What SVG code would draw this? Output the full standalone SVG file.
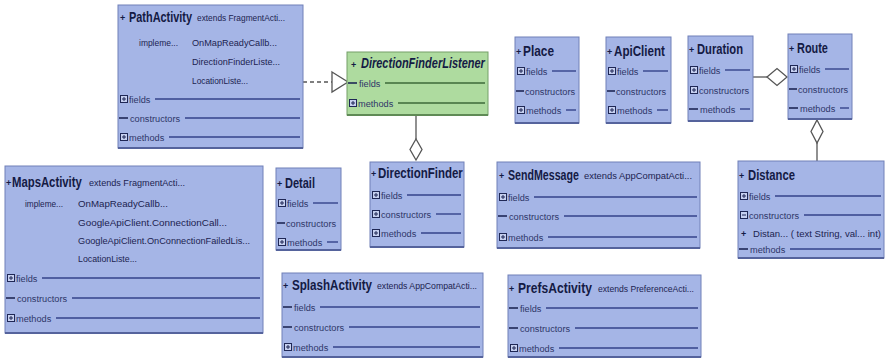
<svg xmlns="http://www.w3.org/2000/svg" width="887" height="358" viewBox="0 0 887 358">
<style>
.box{fill:#a5b5e6;stroke:#7080b8;stroke-width:1}
.gbox{fill:#aedb9f;stroke:#74a068;stroke-width:1}
.sh{stroke:#55639c;stroke-width:2}
.t{font-family:"Liberation Sans",Arial,sans-serif;font-weight:bold;font-size:14px;fill:#141a44}
.p{font-family:"Liberation Sans",Arial,sans-serif;font-weight:bold;font-size:9px;fill:#141a44}
.x{font-family:"Liberation Sans",Arial,sans-serif;font-size:9.5px;fill:#1c2350}
.s{font-family:"Liberation Sans",Arial,sans-serif;font-size:9.2px;fill:#2e3668}
.ln{stroke:#34438a;stroke-width:1.4}
.lg{stroke:#3d6a38;stroke-width:1.4}
.d{stroke:#1f2755;stroke-width:1.6}
.con{stroke:#555;stroke-width:1.3;fill:none}
.hd{fill:#fff;stroke:#555;stroke-width:1.3}
</style>
<defs>
<g id="pl"><rect x="0.5" y="0.5" width="7" height="7" fill="#c6d0f0" stroke="#1f2755" stroke-width="1"/><path d="M2 4h4M4 2v4" stroke="#1f2755" stroke-width="1"/></g>
<g id="mi"><rect x="0.5" y="0.5" width="7" height="7" fill="#c6d0f0" stroke="#1f2755" stroke-width="1"/><path d="M2 4h4" stroke="#1f2755" stroke-width="1"/></g>
</defs>

<g id="connectors">
<line class="con" x1="303" y1="82" x2="332" y2="82" stroke-dasharray="4,3"/>
<polygon class="hd" points="332,72 348,82 332,92"/>
<line class="con" x1="416" y1="115" x2="416" y2="139"/>
<polygon class="hd" points="416,139 422,149.5 416,160 410,149.5"/>
<line class="con" x1="753" y1="77" x2="767" y2="77"/>
<polygon class="hd" points="767,77 777,68.5 787,77 777,85.5"/>
<polygon class="hd" points="817,120 823,131.5 817,143 811,131.5"/>
<line class="con" x1="817" y1="143" x2="817" y2="161"/>
</g>

<g id="PathActivity">
<rect class="box" x="118" y="5" width="185" height="143"/>
<line class="sh" x1="118" y1="148" x2="303" y2="148"/>
<text class="p" x="120" y="21">+</text>
<text class="t" transform="translate(129,22) scale(0.78,1)">PathActivity</text>
<text class="x" x="197" y="21" textLength="88" lengthAdjust="spacingAndGlyphs">extends  FragmentActi...</text>
<text class="x" x="139" y="45.5" textLength="39" lengthAdjust="spacingAndGlyphs">impleme...</text>
<text class="x" x="192" y="45.5" textLength="85" lengthAdjust="spacingAndGlyphs">OnMapReadyCallb...</text>
<text class="x" x="192" y="64.5" textLength="88" lengthAdjust="spacingAndGlyphs">DirectionFinderListe...</text>
<text class="x" x="192" y="83.5" textLength="56" lengthAdjust="spacingAndGlyphs">LocationListe...</text>
<use href="#pl" x="120" y="95"/><text class="s" x="129" y="102.5">fields</text><line class="ln" x1="155" y1="99" x2="300" y2="99"/>
<line class="d" x1="119" y1="118" x2="128" y2="118"/><text class="s" x="130" y="121.5">constructors</text><line class="ln" x1="185" y1="118" x2="300" y2="118"/>
<use href="#pl" x="120" y="133"/><text class="s" x="129" y="140.5">methods</text><line class="ln" x1="169" y1="137" x2="300" y2="137"/>
</g>

<g id="DirectionFinderListener">
<rect class="gbox" x="347" y="52" width="141" height="63"/>
<line x1="347" y1="115" x2="488" y2="115" stroke="#5f8a55" stroke-width="2"/>
<text class="p" x="351" y="68">+</text>
<text class="t" font-style="italic" transform="translate(361,68) scale(0.785,1)">DirectionFinderListener</text>
<line class="d" x1="348" y1="83" x2="357" y2="83" stroke="#24421f"/><text class="s" x="359" y="86.5">fields</text><line class="lg" x1="385" y1="83" x2="485" y2="83"/>
<use href="#pl" x="349" y="99"/><text class="s" x="358" y="106.5">methods</text><line class="lg" x1="398" y1="103" x2="485" y2="103"/>
</g>

<g id="Place">
<rect class="box" x="515" y="37" width="64" height="86"/>
<line class="sh" x1="515" y1="123" x2="579" y2="123"/>
<text class="p" x="516" y="55">+</text>
<text class="t" transform="translate(523,56) scale(0.847,1)">Place</text>
<use href="#pl" x="517" y="67"/><text class="s" x="526" y="74.5">fields</text><line class="ln" x1="552" y1="71" x2="576" y2="71"/>
<line class="d" x1="516" y1="91" x2="524" y2="91"/><text class="s" x="525" y="94.5">constructors</text>
<use href="#pl" x="517" y="106"/><text class="s" x="526" y="113.5">methods</text><line class="ln" x1="566" y1="110" x2="576" y2="110"/>
</g>

<g id="ApiClient">
<rect class="box" x="606" y="37" width="65" height="86"/>
<line class="sh" x1="606" y1="123" x2="671" y2="123"/>
<text class="p" x="607" y="55">+</text>
<text class="t" transform="translate(614,56) scale(0.83,1)">ApiClient</text>
<use href="#pl" x="608" y="67"/><text class="s" x="617" y="74.5">fields</text><line class="ln" x1="643" y1="71" x2="668" y2="71"/>
<line class="d" x1="607" y1="91" x2="615" y2="91"/><text class="s" x="616" y="94.5">constructors</text>
<use href="#pl" x="608" y="106"/><text class="s" x="617" y="113.5">methods</text><line class="ln" x1="657" y1="110" x2="668" y2="110"/>
</g>

<g id="Duration">
<rect class="box" x="688" y="36" width="65" height="85"/>
<line class="sh" x1="688" y1="121" x2="753" y2="121"/>
<text class="p" x="689" y="53">+</text>
<text class="t" transform="translate(697,54) scale(0.8,1)">Duration</text>
<use href="#pl" x="690" y="66"/><text class="s" x="699" y="73.5">fields</text><line class="ln" x1="725" y1="70" x2="750" y2="70"/>
<use href="#pl" x="690" y="86"/><text class="s" x="699" y="93.5">constructors</text>
<line class="d" x1="689" y1="109" x2="698" y2="109"/><text class="s" x="700" y="112.5">methods</text><line class="ln" x1="740" y1="109" x2="750" y2="109"/>
</g>

<g id="Route">
<rect class="box" x="788" y="34" width="64" height="85"/>
<line class="sh" x1="788" y1="119" x2="852" y2="119"/>
<text class="p" x="789" y="52">+</text>
<text class="t" transform="translate(797,53) scale(0.78,1)">Route</text>
<use href="#pl" x="790" y="65"/><text class="s" x="799" y="72.5">fields</text><line class="ln" x1="825" y1="69" x2="849" y2="69"/>
<line class="d" x1="789" y1="89" x2="797" y2="89"/><text class="s" x="798" y="92.5">constructors</text>
<line class="d" x1="789" y1="108" x2="798" y2="108"/><text class="s" x="800" y="111.5">methods</text><line class="ln" x1="840" y1="108" x2="849" y2="108"/>
</g>

<g id="Distance">
<rect class="box" x="738" y="161" width="146" height="97"/>
<line class="sh" x1="738" y1="258" x2="884" y2="258"/>
<text class="p" x="739" y="179">+</text>
<text class="t" transform="translate(748,180) scale(0.805,1)">Distance</text>
<use href="#pl" x="740" y="192"/><text class="s" x="749" y="199.5">fields</text><line class="ln" x1="775" y1="196" x2="881" y2="196"/>
<use href="#mi" x="740" y="211"/><text class="s" x="749" y="218.5">constructors</text><line class="ln" x1="804" y1="215" x2="881" y2="215"/>
<text class="p" x="741" y="237">+</text>
<text class="x" x="753" y="236.5" textLength="128" lengthAdjust="spacingAndGlyphs">Distan... ( text String,  val...  int)</text>
<line class="d" x1="739" y1="249" x2="748" y2="249"/><text class="s" x="750" y="252.5">methods</text><line class="ln" x1="790" y1="249" x2="881" y2="249"/>
</g>

<g id="MapsActivity">
<rect class="box" x="5" y="166" width="258" height="167"/>
<line class="sh" x1="5" y1="333" x2="263" y2="333"/>
<text class="p" x="6" y="186">+</text>
<text class="t" transform="translate(12,187) scale(0.81,1)">MapsActivity</text>
<text class="x" x="89" y="186" textLength="96" lengthAdjust="spacingAndGlyphs">extends  FragmentActi...</text>
<text class="x" x="25" y="206.5" textLength="38" lengthAdjust="spacingAndGlyphs">impleme...</text>
<text class="x" x="78" y="206.5" textLength="90" lengthAdjust="spacingAndGlyphs">OnMapReadyCallb...</text>
<text class="x" x="78" y="225.5" textLength="149" lengthAdjust="spacingAndGlyphs">GoogleApiClient.ConnectionCall...</text>
<text class="x" x="78" y="243.5" textLength="172" lengthAdjust="spacingAndGlyphs">GoogleApiClient.OnConnectionFailedLis...</text>
<text class="x" x="78" y="261.5" textLength="59" lengthAdjust="spacingAndGlyphs">LocationListe...</text>
<use href="#pl" x="7" y="274"/><text class="s" x="16" y="281.5">fields</text><line class="ln" x1="42" y1="278" x2="260" y2="278"/>
<line class="d" x1="6" y1="298" x2="15" y2="298"/><text class="s" x="17" y="301.5">constructors</text><line class="ln" x1="72" y1="298" x2="260" y2="298"/>
<use href="#pl" x="7" y="314"/><text class="s" x="16" y="321.5">methods</text><line class="ln" x1="56" y1="318" x2="260" y2="318"/>
</g>

<g id="Detail">
<rect class="box" x="276" y="168" width="65" height="82"/>
<line class="sh" x1="276" y1="250" x2="341" y2="250"/>
<text class="p" x="277" y="187">+</text>
<text class="t" transform="translate(285,188) scale(0.787,1)">Detail</text>
<use href="#pl" x="278" y="199"/><text class="s" x="287" y="206.5">fields</text><line class="ln" x1="313" y1="203" x2="338" y2="203"/>
<line class="d" x1="277" y1="223" x2="285" y2="223"/><text class="s" x="286" y="226.5">constructors</text>
<use href="#pl" x="278" y="238"/><text class="s" x="287" y="245.5">methods</text><line class="ln" x1="327" y1="242" x2="338" y2="242"/>
</g>

<g id="DirectionFinder">
<rect class="box" x="370" y="162" width="94" height="85"/>
<line class="sh" x1="370" y1="247" x2="464" y2="247"/>
<text class="p" x="371" y="177">+</text>
<text class="t" transform="translate(378,178) scale(0.82,1)">DirectionFinder</text>
<use href="#pl" x="372" y="191"/><text class="s" x="381" y="198.5">fields</text><line class="ln" x1="407" y1="195" x2="461" y2="195"/>
<use href="#pl" x="372" y="210"/><text class="s" x="381" y="217.5">constructors</text><line class="ln" x1="436" y1="214" x2="461" y2="214"/>
<use href="#pl" x="372" y="229"/><text class="s" x="381" y="236.5">methods</text><line class="ln" x1="421" y1="233" x2="461" y2="233"/>
</g>

<g id="SendMessage">
<rect class="box" x="497" y="162" width="203" height="86"/>
<line class="sh" x1="497" y1="248" x2="700" y2="248"/>
<text class="p" x="499" y="179">+</text>
<text class="t" transform="translate(508,180) scale(0.76,1)">SendMessage</text>
<text class="x" x="584" y="179" textLength="108" lengthAdjust="spacingAndGlyphs">extends  AppCompatActi...</text>
<use href="#pl" x="499" y="193"/><text class="s" x="508" y="200.5">fields</text><line class="ln" x1="534" y1="197" x2="697" y2="197"/>
<line class="d" x1="498" y1="216" x2="507" y2="216"/><text class="s" x="509" y="219.5">constructors</text><line class="ln" x1="564" y1="216" x2="697" y2="216"/>
<use href="#pl" x="499" y="233"/><text class="s" x="508" y="240.5">methods</text><line class="ln" x1="548" y1="237" x2="697" y2="237"/>
</g>

<g id="SplashActivity">
<rect class="box" x="282" y="273" width="201" height="84"/>
<line class="sh" x1="282" y1="357" x2="483" y2="357"/>
<text class="p" x="283" y="289">+</text>
<text class="t" transform="translate(292,290) scale(0.83,1)">SplashActivity</text>
<text class="x" x="377" y="289" textLength="100" lengthAdjust="spacingAndGlyphs">extends  AppCompatActi...</text>
<line class="d" x1="283" y1="307" x2="292" y2="307"/><text class="s" x="294" y="310.5">fields</text><line class="ln" x1="320" y1="307" x2="480" y2="307"/>
<line class="d" x1="283" y1="327" x2="292" y2="327"/><text class="s" x="294" y="330.5">constructors</text><line class="ln" x1="349" y1="327" x2="480" y2="327"/>
<use href="#pl" x="284" y="343"/><text class="s" x="293" y="350.5">methods</text><line class="ln" x1="333" y1="347" x2="480" y2="347"/>
</g>

<g id="PrefsActivity">
<rect class="box" x="508" y="275" width="193" height="82"/>
<line class="sh" x1="508" y1="357" x2="701" y2="357"/>
<text class="p" x="509" y="292">+</text>
<text class="t" transform="translate(518,293) scale(0.864,1)">PrefsActivity</text>
<text class="x" x="598" y="292" textLength="96" lengthAdjust="spacingAndGlyphs">extends  PreferenceActi...</text>
<line class="d" x1="509" y1="308" x2="518" y2="308"/><text class="s" x="520" y="311.5">fields</text><line class="ln" x1="546" y1="308" x2="698" y2="308"/>
<line class="d" x1="509" y1="328" x2="518" y2="328"/><text class="s" x="520" y="331.5">constructors</text><line class="ln" x1="575" y1="328" x2="698" y2="328"/>
<use href="#pl" x="510" y="344"/><text class="s" x="519" y="351.5">methods</text><line class="ln" x1="559" y1="348" x2="698" y2="348"/>
</g>
</svg>
